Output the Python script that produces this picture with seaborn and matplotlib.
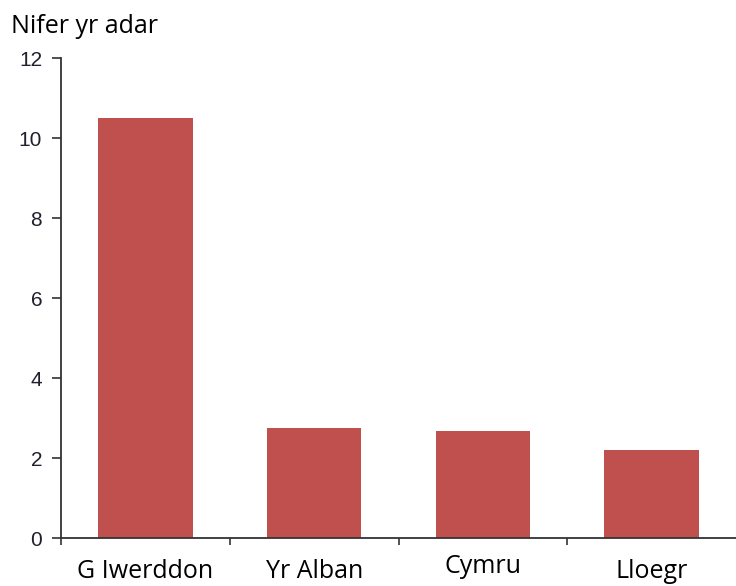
import matplotlib
matplotlib.use("Agg")
import matplotlib.pyplot as plt
import seaborn as sns
import pandas as pd
from matplotlib.ticker import FixedLocator
from matplotlib.transforms import ScaledTranslation

# --- data ---
countries = ["G Iwerddon", "Yr Alban", "Cymru", "Lloegr"]
bird_counts = [10.5, 2.75, 2.67, 2.2]
y_ticks = [0, 2, 4, 6, 8, 10, 12]
title_text = "Nifer yr adar"

sns.set_theme(style="white")
plt.rcParams['font.family'] = ['Liberation Sans', 'DejaVu Sans']

W, H = 736, 586
fig = plt.figure(figsize=(W / 100, H / 100), dpi=100)
ax = fig.add_axes([61 / W, 1 - 538 / H, 1 - 61 / W, (538 - 58) / H])

df = pd.DataFrame({"gwlad": countries, "nifer": bird_counts})
sns.barplot(data=df, x="gwlad", y="nifer", color="#C0504D", saturation=1,
            width=0.56, linewidth=0, ax=ax)

ax.set_xlim(-0.5, 3.5)
ax.set_ylim(0, 12)
ax.set_xlabel("")
ax.set_ylabel("")

for side in ["top", "right"]:
    ax.spines[side].set_visible(False)
for side in ["left", "bottom"]:
    ax.spines[side].set_color("#333333")
    ax.spines[side].set_linewidth(1.3)

# y axis
ax.set_yticks(y_ticks)
ax.tick_params(axis="y", left=True, direction="out", length=6.5, width=1.2,
               color="#333333", pad=7, labelsize=15, labelcolor="#1f1f2e")

# x axis: labels at centres, small ticks between categories
ax.set_xticks(range(len(countries)))
ax.set_xticklabels(countries, fontfamily="Open Sans", fontsize=18, color="black")
ax.tick_params(axis="x", which="major", bottom=True, length=0, pad=15)
ax.xaxis.set_minor_locator(FixedLocator([-0.5, 0.5, 1.5, 2.5]))
ax.tick_params(axis="x", which="minor", bottom=True, direction="out",
               length=5, width=1.2, color="#333333")

# "Cymru" sits slightly higher in the original
for lbl in ax.get_xticklabels():
    if lbl.get_text() == "Cymru":
        lbl.set_transform(lbl.get_transform() +
                          ScaledTranslation(0, 5 / 100, fig.dpi_scale_trans))

fig.text(11 / W, 1 - 33 / H, title_text, fontfamily="Open Sans", fontsize=18,
         ha="left", va="baseline", color="black")

fig.savefig("out.png", dpi=100)
